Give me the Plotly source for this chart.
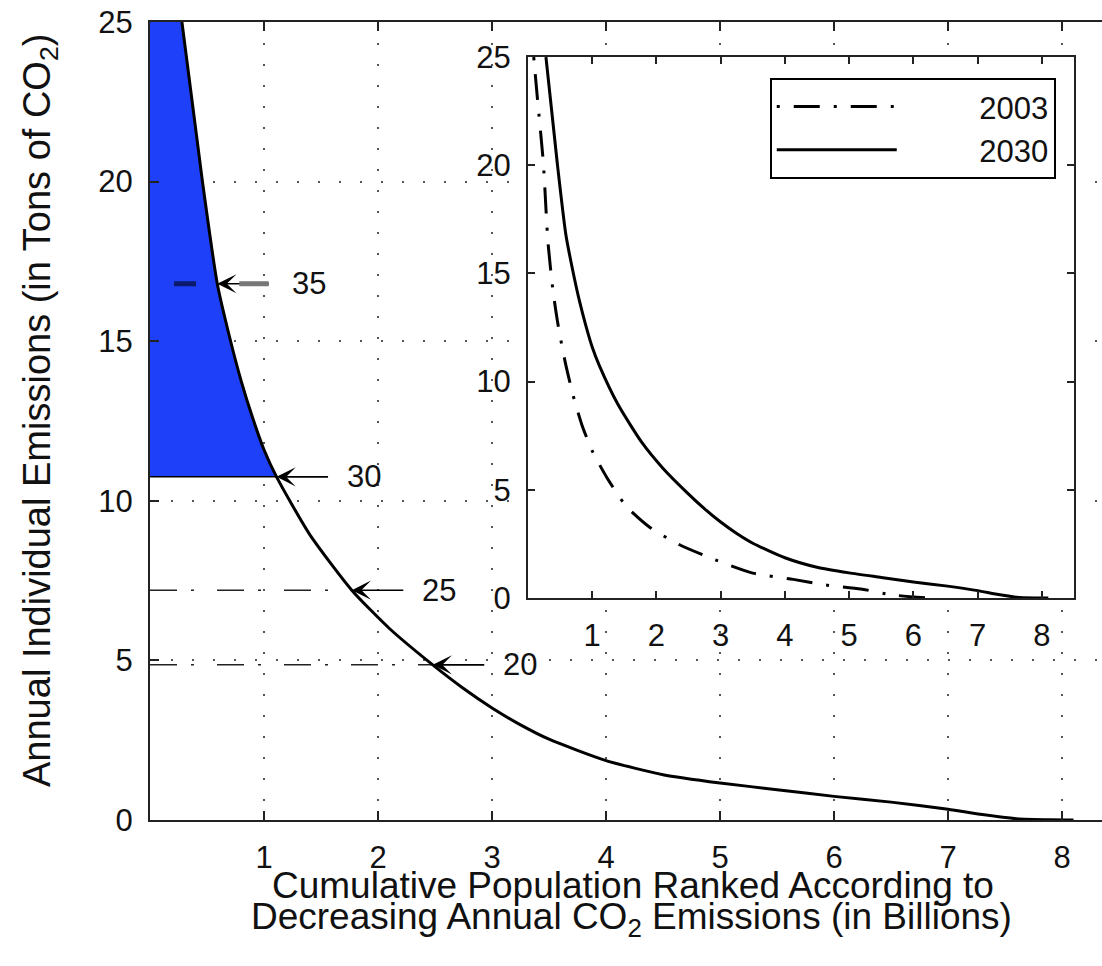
import plotly.graph_objects as go

# ---------------- data ----------------
pop_2030 = [0.28, 0.46, 0.59, 0.70, 0.80, 0.90, 1.00, 1.11, 1.40, 1.77, 2.10, 2.48, 2.75,
            3.00, 3.25, 3.50, 4.00, 4.50, 5.00, 5.50, 6.00, 6.50, 7.00, 7.30, 7.60, 7.90, 8.10]
emis_2030 = [25.0, 20.0, 16.8, 15.1, 13.75, 12.6, 11.6, 10.75, 8.95, 7.2, 6.0, 4.86, 4.12,
             3.51, 2.98, 2.53, 1.86, 1.42, 1.16, 0.95, 0.74, 0.56, 0.34, 0.17, 0.04, 0.005, 0.0]

pop_2003 = [0.09, 0.15, 0.24, 0.31, 0.39, 0.47, 0.58, 0.70, 0.84, 1.00, 1.23, 1.53, 1.90,
            2.36, 2.85, 3.50, 4.13, 4.64, 5.18, 5.65, 6.22]
emis_2003 = [25.0, 23.0, 20.1, 16.5, 14.2, 12.6, 10.9, 9.4, 8.0, 6.8, 5.56, 4.24, 3.26,
             2.46, 1.84, 1.15, 0.86, 0.60, 0.42, 0.15, 0.0]

ref_labels = ["35", "30", "25", "20"]
ref_pop = [0.59, 1.11, 1.77, 2.48]
ref_emis = [16.8, 10.75, 7.2, 4.86]

main_xticks = [1, 2, 3, 4, 5, 6, 7, 8]
main_yticks = [0, 5, 10, 15, 20, 25]
inset_xticks = [1, 2, 3, 4, 5, 6, 7, 8]
inset_yticks = [0, 5, 10, 15, 20, 25]

MAIN_XRANGE = [0, 8.35]
MAIN_YRANGE = [0, 25]
INSET_XRANGE = [0, 8.5]
INSET_YRANGE = [0, 25]

series_names = ["2003", "2030"]
xtitle_lines = ["Cumulative Population Ranked According to",
                "Decreasing Annual CO<sub>2</sub> Emissions (in Billions)"]
ytitle = "Annual Individual Emissions (in Tons of CO<sub>2</sub>)"

# ---------------- styling ----------------
FONT = "Liberation Sans, Arial, Helvetica, sans-serif"
BLUE = "#1e40f8"
GRID = "#555555"
TICK_SIZE = 31
TITLE_SIZE = 37
LEGEND_PAD = "\u00a0" * 9

fig = go.Figure()

# blue shaded region: above the "30" line, left of the curve
k30 = pop_2030.index(ref_pop[1])
fill_x = [MAIN_XRANGE[0]] + pop_2030[:k30 + 1] + [MAIN_XRANGE[0]]
fill_y = [emis_2030[0]] + emis_2030[:k30 + 1] + [ref_emis[1]]
fig.add_trace(go.Scatter(x=fill_x, y=fill_y, fill="toself", fillcolor=BLUE,
                         line=dict(width=0), mode="lines", showlegend=False,
                         hoverinfo="skip"))

# reference lines
fig.add_trace(go.Scatter(x=[MAIN_XRANGE[0], ref_pop[0]], y=[ref_emis[0]] * 2, mode="lines",
                         line=dict(color="#0b1a6a", width=5, dash="0px,24px,22px,300px"),
                         showlegend=False, hoverinfo="skip"))
fig.add_trace(go.Scatter(x=[MAIN_XRANGE[0], ref_pop[1]], y=[ref_emis[1]] * 2, mode="lines",
                         line=dict(color="black", width=1.5),
                         showlegend=False, hoverinfo="skip"))
for i in (2, 3):
    fig.add_trace(go.Scatter(x=[MAIN_XRANGE[0], ref_pop[i]], y=[ref_emis[i]] * 2, mode="lines",
                             line=dict(color="#222222", width=1.5, dash="27px,14px,3px,23px"),
                             showlegend=False, hoverinfo="skip"))

# main 2030 curve
fig.add_trace(go.Scatter(x=pop_2030, y=emis_2030, mode="lines",
                         line=dict(color="black", width=3, shape="spline", smoothing=0.6),
                         showlegend=False, hoverinfo="skip"))

# inset: opaque white background covering the main grid
fig.add_trace(go.Scatter(x=[INSET_XRANGE[0], INSET_XRANGE[1], INSET_XRANGE[1], INSET_XRANGE[0], INSET_XRANGE[0]],
                         y=[INSET_YRANGE[0], INSET_YRANGE[0], INSET_YRANGE[1], INSET_YRANGE[1], INSET_YRANGE[0]],
                         xaxis="x2", yaxis="y2", fill="toself", fillcolor="white",
                         line=dict(width=0), mode="lines", showlegend=False, hoverinfo="skip"))
fig.add_trace(go.Scatter(x=pop_2003, y=emis_2003, name=LEGEND_PAD + series_names[0], mode="lines",
                         xaxis="x2", yaxis="y2",
                         line=dict(color="black", width=3, dash="3px,14px,26px,14px",
                                   shape="spline", smoothing=0.6)))
fig.add_trace(go.Scatter(x=pop_2030, y=emis_2030, name=LEGEND_PAD + series_names[1], mode="lines",
                         xaxis="x2", yaxis="y2",
                         line=dict(color="black", width=3, shape="spline", smoothing=0.6)))

# arrows + labels
ARROW_LEN = 53
LABEL_SHIFT = 68
annotations = []
for i, lab in enumerate(ref_labels):
    annotations.append(dict(x=ref_pop[i], y=ref_emis[i], xref="x", yref="y", text="",
                            showarrow=True, ax=ARROW_LEN, ay=0, arrowhead=3,
                            arrowsize=2.0, arrowwidth=1.6, arrowcolor="black"))
    annotations.append(dict(x=ref_pop[i], y=ref_emis[i], xref="x", yref="y", text=lab,
                            showarrow=False, xanchor="left", yanchor="middle",
                            xshift=LABEL_SHIFT + (5 if i == 0 else 0),
                            font=dict(size=TICK_SIZE, color="#111")))
annotations.append(dict(x=ref_pop[0], y=ref_emis[0], xref="x", yref="y", text="",
                        showarrow=True, ax=ARROW_LEN, ay=0, arrowhead=0, standoff=22,
                        arrowwidth=5, arrowcolor="#777777"))

# axis titles (tight line spacing as in the reference)
annotations.append(dict(x=0.5, y=0, xref="paper", yref="paper", text=xtitle_lines[0],
                        showarrow=False, xanchor="center", yanchor="middle", yshift=-65,
                        xshift=7, font=dict(size=TITLE_SIZE, color="#111")))
annotations.append(dict(x=0.5, y=0, xref="paper", yref="paper", text=xtitle_lines[1],
                        showarrow=False, xanchor="center", yanchor="middle", yshift=-99,
                        xshift=5, font=dict(size=TITLE_SIZE, color="#111")))
annotations.append(dict(x=0, y=0.5, xref="paper", yref="paper", text=ytitle, textangle=-90,
                        showarrow=False, xanchor="center", yanchor="middle", xshift=-110,
                        yshift=10, font=dict(size=TITLE_SIZE + 1, color="#111")))

axis_common = dict(ticks="inside", showline=True, linecolor="#222", linewidth=2,
                   tickcolor="#222", tickwidth=1.5,
                   tickfont=dict(size=TICK_SIZE, color="#111", family=FONT),
                   zeroline=False)

fig.update_layout(
    width=1102, height=966,
    margin=dict(l=150, r=0, t=22, b=146),
    paper_bgcolor="white", plot_bgcolor="white",
    font=dict(family=FONT, color="#111"),
    xaxis=dict(range=MAIN_XRANGE, tickvals=main_xticks, ticklen=9, mirror="ticks",
               showgrid=True, gridcolor=GRID, gridwidth=1.5, griddash="2px,19px",
               ticklabelstandoff=9, **axis_common),
    yaxis=dict(range=MAIN_YRANGE, tickvals=main_yticks, ticklen=9,
               showgrid=True, gridcolor=GRID, gridwidth=1.5, griddash="2px,19px",
               ticklabelstandoff=9, **axis_common),
    xaxis2=dict(domain=[0.397, 0.9706], anchor="y2", range=INSET_XRANGE,
                tickvals=inset_xticks, ticklen=7, mirror="ticks", showgrid=False,
                ticklabelstandoff=9, **axis_common),
    yaxis2=dict(domain=[0.2782, 0.9561], anchor="x2", range=INSET_YRANGE,
                tickvals=inset_yticks, ticklen=7, mirror="ticks", showgrid=False,
                ticklabelstandoff=9, **axis_common),
    legend=dict(x=0.651, y=0.93, xanchor="left", yanchor="top", xref="paper", yref="paper",
                bgcolor="white", bordercolor="black", borderwidth=2,
                font=dict(size=TICK_SIZE, color="#111", family=FONT),
                itemwidth=120, tracegroupgap=0),
    annotations=annotations,
    showlegend=True,
)

fig.write_html("out.html")
